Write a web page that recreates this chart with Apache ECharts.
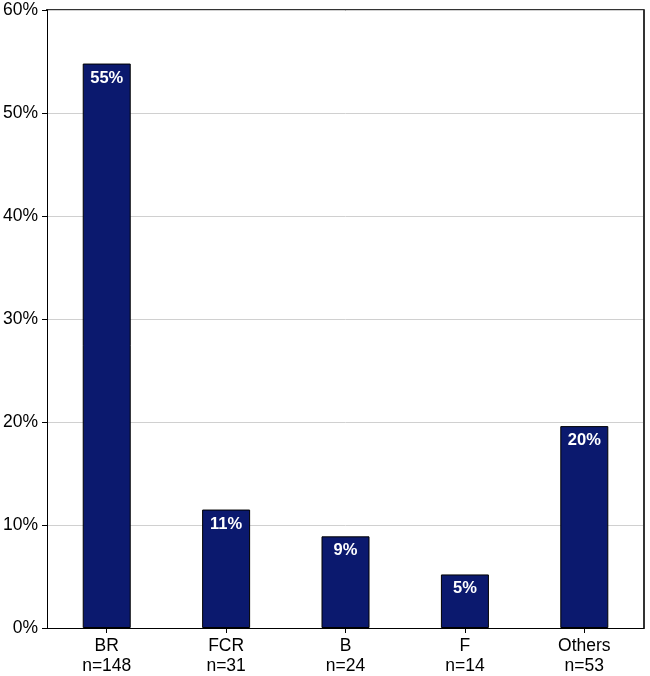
<!DOCTYPE html>
<html><head><meta charset="utf-8">
<script src="https://cdn.jsdelivr.net/npm/echarts@6/dist/echarts.min.js"></script>
<style>html,body{margin:0;padding:0;background:#fff}#c{width:650px;height:676px}</style>
</head><body><div id="c"></div>
<script>
const categories = ['BR', 'FCR', 'B', 'F', 'Others'];
const counts = [148, 31, 24, 14, 53];
const percentValues = [54.8, 11.5, 8.9, 5.2, 19.6];
const valueLabels = ['55%', '11%', '9%', '5%', '20%'];
const yTicks = [0, 10, 20, 30, 40, 50, 60];

const chart = echarts.init(document.getElementById('c'));
chart.setOption({
  animation: false,
  backgroundColor: '#fff',
  grid: { left: 46, right: 6, top: 10, bottom: 48, show: false },
  xAxis: {
    type: 'category',
    data: categories.map((c, i) => c + '\nn=' + counts[i]),
    axisLine: { lineStyle: { color: '#000', width: 1 } },
    axisTick: { show: true, alignWithLabel: true, length: 5, lineStyle: { color: '#000' } },
    axisLabel: { color: '#000', fontSize: 17.5, fontFamily: 'Liberation Sans, Arial', lineHeight: 20, margin: 8 }
  },
  yAxis: [{
    type: 'value', min: 0, max: 60, interval: 10,
    axisLine: { show: true, lineStyle: { color: '#000', width: 1 } },
    axisTick: { show: true, length: 5, lineStyle: { color: '#000' } },
    axisLabel: { color: '#000', fontSize: 17.5, fontFamily: 'Liberation Sans, Arial', margin: 9,
      formatter: v => yTicks.includes(v) ? v + '%' : '' },
    splitLine: { show: true, lineStyle: { color: '#d0d0d0', width: 1 } }
  }, {
    type: 'value', min: 0, max: 60, interval: 60, position: 'right',
    axisLine: { show: true, lineStyle: { color: '#333', width: 2 } },
    axisTick: { show: false }, axisLabel: { show: false }, splitLine: { show: false }
  }],
  series: [{
    type: 'bar',
    data: percentValues,
    barWidth: 48,
    itemStyle: { color: '#0b196e', borderColor: '#000', borderWidth: 1 },
    label: {
      show: true, position: 'insideTop', distance: 6,
      color: '#fff', fontWeight: 'bold', fontSize: 16.5, fontFamily: 'Liberation Sans, Arial',
      formatter: p => valueLabels[p.dataIndex]
    }
  }],
  graphic: []
});
const p0 = chart.convertToPixel({ gridIndex: 0 }, [0, 60]);
chart.setOption({
  graphic: [{
    type: 'line', shape: { x1: 46, y1: p0[1], x2: 644, y2: p0[1] },
    style: { stroke: '#333', lineWidth: 2 }, silent: true
  }]
});
</script></body></html>
